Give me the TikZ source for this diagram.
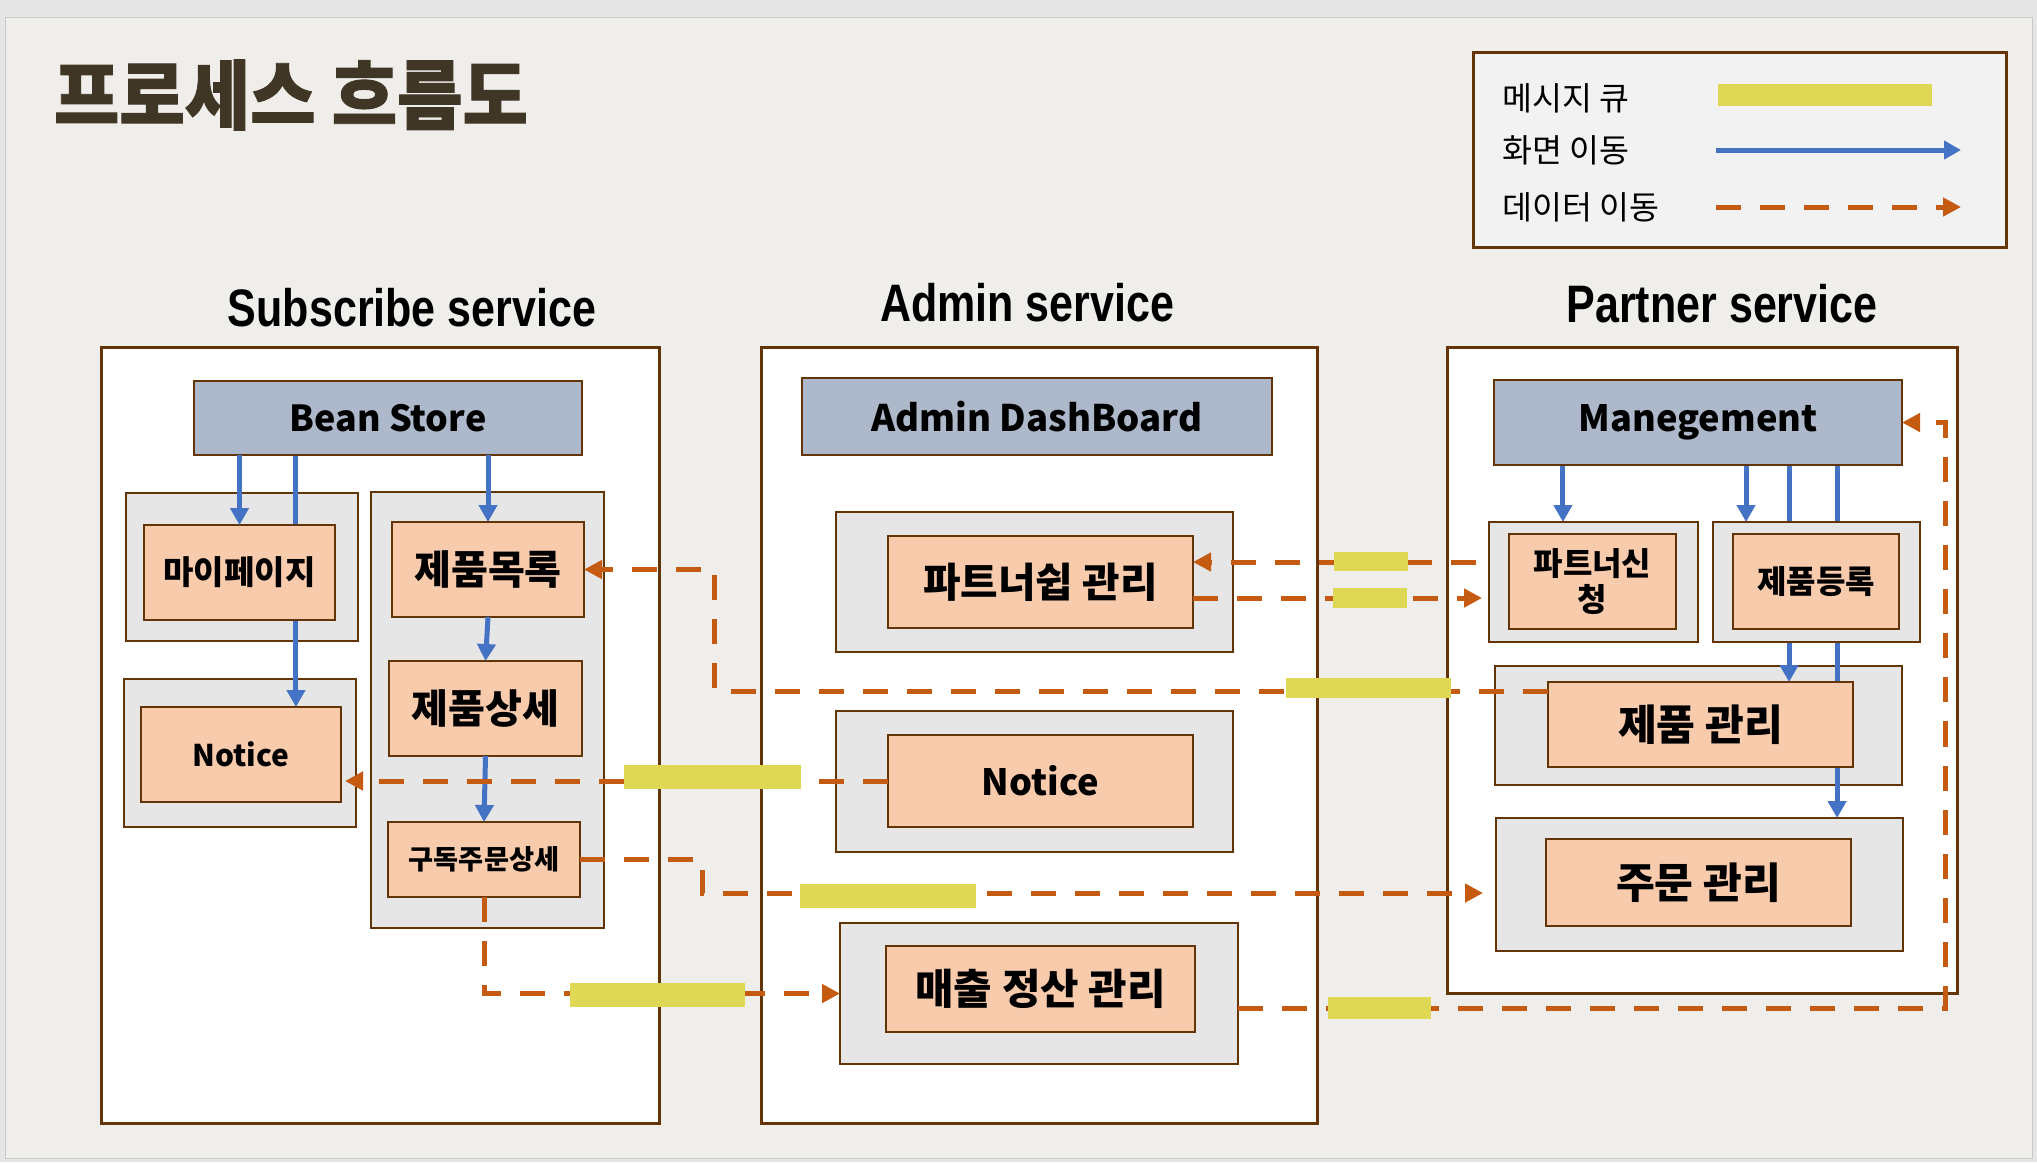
\documentclass[tikz,border=0pt]{standalone}
\usepackage{fontspec}
\setmainfont{Noto Sans CJK KR}
\newfontfamily\headfont{Liberation Sans}[FakeStretch=0.815]
\newfontfamily\titlefont{Noto Sans CJK KR}[FakeStretch=0.94,BoldFeatures={FakeBold=1.2}]
\usepackage{tikz}
\usetikzlibrary{arrows.meta}
\usepackage{xcolor}
\definecolor{outerbg}{RGB}{230,230,230}
\definecolor{slidebg}{RGB}{239,238,234}
\definecolor{slideedge}{RGB}{200,200,200}
\definecolor{brownline}{RGB}{99,52,6}
\definecolor{grpgray}{RGB}{230,230,230}
\definecolor{peach}{RGB}{248,203,173}
\definecolor{bluegray}{RGB}{173,185,202}
\definecolor{legendbg}{RGB}{242,242,242}
\definecolor{mqyellow}{RGB}{223,216,84}
\definecolor{navblue}{RGB}{68,114,196}
\definecolor{dataorange}{RGB}{197,90,17}
\definecolor{titlebrown}{RGB}{64,54,38}
\pgfdeclarelayer{back}
\pgfdeclarelayer{groups}
\pgfdeclarelayer{lines}
\pgfsetlayers{back,groups,lines,main}

\begin{document}
\begin{tikzpicture}[x=0.01cm,y=-0.01cm,
  sz/.style 2 args={minimum width=#1*0.01cm,minimum height=#2*0.01cm},
  svcbox/.style={draw=brownline,line width=0.03cm,fill=white,inner sep=0pt,outer sep=0pt},
  grpbox/.style={draw=brownline,line width=0.02cm,fill=grpgray,inner sep=0pt,outer sep=0pt},
  pagebox/.style={draw=brownline,line width=0.02cm,fill=peach,inner sep=0pt,outer sep=0pt,
    align=center,font=\fontsize{#1}{10pt}\selectfont\bfseries},
  headbox/.style={draw=brownline,line width=0.02cm,fill=bluegray,inner sep=0pt,outer sep=0pt,
    font=\fontsize{#1}{10pt}\selectfont\bfseries},
  svctitle/.style={font=\headfont\bfseries\fontsize{15pt}{17pt}\selectfont,anchor=base},
  legtext/.style={font=\fontsize{9.25pt}{10pt}\selectfont,anchor=west,inner sep=0pt},
  navarrow/.style={draw=navblue,line width=0.05cm,-{Triangle[length=0.17cm,width=0.18cm]}},
  dataarrow/.style={draw=dataorange,line width=0.05cm,dash pattern=on 0.25cm off 0.19cm,
    -{Triangle[length=0.18cm,width=0.18cm]}},
  mqbar/.style={fill=mqyellow,inner sep=0pt,outer sep=0pt}]
  \useasboundingbox (0,0) rectangle (2037,1162);

  \begin{pgfonlayer}{back}
    \fill[outerbg] (0,0) rectangle (2037,1162);
    \draw[slideedge,fill=slidebg,line width=0.01cm] (5,17) rectangle (2032,1158);
    \node[svcbox,sz={558}{776}] (subsvc) at (380,735) {};
    \node[svcbox,sz={556}{776}] (admsvc) at (1039,735) {};
    \node[svcbox,sz={510}{646}] (prtsvc) at (1702,670) {};
  \end{pgfonlayer}

  \begin{pgfonlayer}{groups}
    \node[grpbox,sz={232}{148}] (mygrp) at (242,567) {};
    \node[grpbox,sz={232}{148}] (ntgrp) at (240,753) {};
    \node[grpbox,sz={233}{436}] (prodgrp) at (487.5,710) {};
    \node[grpbox,sz={397}{140}] (ptgrp) at (1034.5,582) {};
    \node[grpbox,sz={397}{141}] (angrp) at (1034.5,781.5) {};
    \node[grpbox,sz={398}{141}] (slgrp) at (1039,993.5) {};
    \node[grpbox,sz={407}{119}] (pmgrp) at (1698.5,725.5) {};
    \node[grpbox,sz={407}{133}] (ordgrp) at (1699.5,884.5) {};
  \end{pgfonlayer}

  \node[font=\titlefont\fontsize{21.5pt}{24pt}\selectfont\bfseries,text=titlebrown] (flowtitle) at (291,95) {프로세스 흐름도};

  \node[draw=brownline,line width=0.03cm,fill=legendbg,sz={533}{195}] (legend) at (1739.5,149.5) {};
  \node[legtext] (lgmq) at (1502,98) {메시지 큐};
  \node[legtext] (lgnav) at (1502,150) {화면 이동};
  \node[legtext] (lgdata) at (1502,207) {데이터 이동};
  \node[mqbar,sz={214}{22}] (lgbar) at (1825,95) {};
  \coordinate (navs) at (1716,150);
  \coordinate (nave) at (1961,150);
  \coordinate (datas) at (1716,207);
  \coordinate (datae) at (1961,207);
  \draw[navarrow] (navs) -- (nave);
  \draw[dataarrow] (datas) -- (datae);

  \node[svctitle] (subttl) at (412,326) {Subscribe service};
  \node[svctitle] (admttl) at (1027,321) {Admin service};
  \node[svctitle] (prtttl) at (1722,322) {Partner service};

  \node[headbox=10.2pt,sz={388}{74}] (bean) at (388,418) {Bean Store};
  \node[pagebox=9.4pt,sz={191}{95}] (mypage) at (239.5,572.5) {마이페이지};
  \node[pagebox=8.5pt,sz={200}{95}] (subnotice) at (241,754.5) {Notice};
  \node[pagebox=11.4pt,sz={192}{95}] (plist) at (488,569.5) {제품목록};
  \node[pagebox=11.4pt,sz={193}{95}] (pdetail) at (485.5,708.5) {제품상세};
  \node[pagebox=7.75pt,sz={192}{75}] (suborder) at (484,859.5) {구독주문상세};

  \node[headbox=10.4pt,sz={470}{77}] (dash) at (1037,416.5) {Admin DashBoard};
  \node[pagebox=11.6pt,sz={305}{92}] (ptmgmt) at (1040.5,582) {파트너쉽 관리};
  \node[pagebox=10.3pt,sz={305}{92}] (admnotice) at (1040.5,781) {Notice};
  \node[pagebox=11.9pt,sz={309}{86}] (sales) at (1040.5,989) {매출 정산 관리};

  \node[headbox=10.3pt,sz={408}{85}] (mgmt) at (1698,422.5) {Manegement};
  \node[grpbox,sz={209}{120}] (reqgrp) at (1593.5,582) {};
  \node[grpbox,sz={207}{120}] (reggrp) at (1816.5,582) {};
  \node[pagebox=9.1pt,sz={167}{95}] (preq) at (1592.5,581.5) {파트너신\\청};
  \node[pagebox=9.1pt,sz={166}{95}] (preg) at (1816,581.5) {제품등록};
  \node[pagebox=12pt,sz={305}{85}] (pmgmt) at (1700.5,724.5) {제품 관리};
  \node[pagebox=12pt,sz={305}{87}] (omgmt) at (1698.5,882.5) {주문 관리};

  \begin{pgfonlayer}{lines}
    \coordinate (bn2) at ([xshift=-0.92cm]bean.south);
    \draw[navarrow] (bn2) -- (bn2 |- subnotice.north);
    \foreach \dx/\tgt in {-1.35/reqgrp,0.48/reggrp,0.91/pmgmt,1.39/ordgrp}{
      \coordinate (mtop) at ([xshift=\dx cm]mgmt.south);
      \draw[navarrow] (mtop) -- (mtop |- \tgt.north);
    }
  \end{pgfonlayer}

  \draw[navarrow] (mypage.north |- bean.south) -- (mypage.north);
  \draw[navarrow] (plist.north |- bean.south) -- (plist.north);
  \draw[navarrow] (plist.south) -- (pdetail.north);
  \draw[navarrow] (pdetail.south) -- (suborder.north);

  \draw[dataarrow] ([yshift=0.335cm]pmgmt.west) -| ([xshift=1.3cm]plist.east) -- (plist.east);
  \draw[dataarrow,shorten >=0.04cm] (admnotice.west) -- (admnotice.west -| subnotice.east);
  \draw[dataarrow,shorten >=0.13cm] (suborder.east) -- ++(1.22cm,0) |- ([yshift=-0.085cm]ordgrp.west);
  \draw[dataarrow] (suborder.south) |- (slgrp.west);
  \draw[dataarrow,shorten <=0.13cm] ([yshift=0.2cm]reqgrp.west) -- ([yshift=0.2cm]ptmgmt.east);
  \coordinate (ptlow) at ([yshift=-0.16cm]ptmgmt.east);
  \draw[dataarrow,shorten >=0.07cm] (ptlow) -- (ptlow -| reqgrp.west);
  \draw[dataarrow] ([yshift=-0.145cm]slgrp.east) -| ([xshift=0.43cm]mgmt.east) -- (mgmt.east);

  \foreach \bar/\cx/\cy/\w/\h in {mqa/1368.5/688/165/20,mqb/712.5/777/177/24,mqc/888/896/176/24,
      mqd/657.5/995/175/24,mqe/1371/561.5/74/19,mqf/1370/598/74/20,mqg/1379.5/1008/103/22}
    \node[mqbar,sz={\w}{\h}] (\bar) at (\cx,\cy) {};
\end{tikzpicture}
\end{document}
